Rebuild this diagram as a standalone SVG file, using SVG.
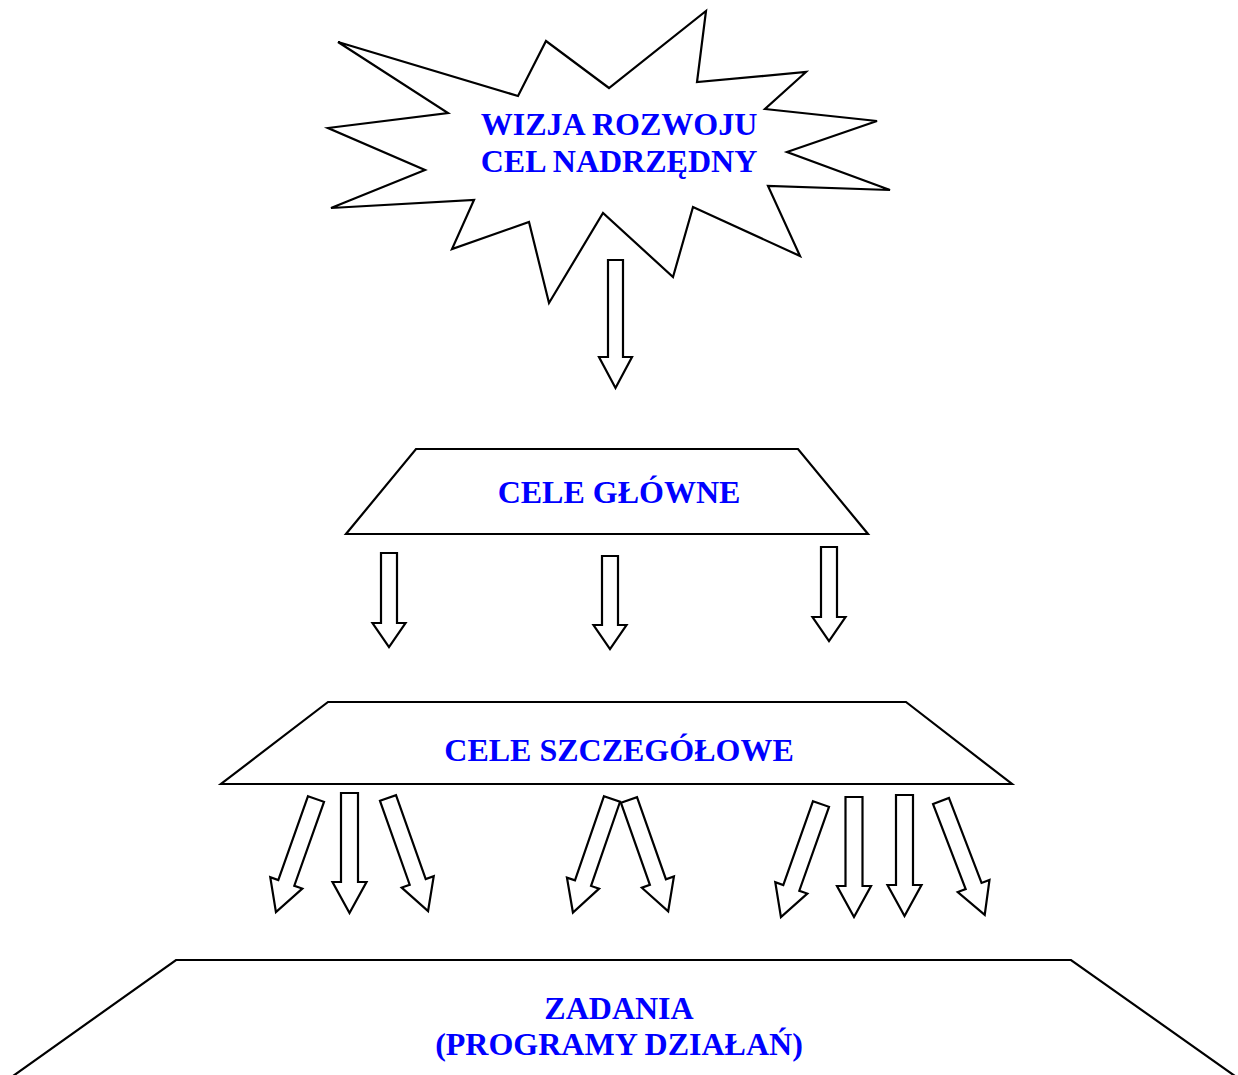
<svg xmlns="http://www.w3.org/2000/svg" width="1238" height="1075" viewBox="0 0 1238 1075">
<style>
.shape{fill:#fff;stroke:#000;stroke-width:2.2;stroke-linejoin:miter}
.arrow{fill:#fff;stroke:#000;stroke-width:2.2}
.lbl{font-family:"Liberation Serif","Times New Roman",serif;font-weight:bold;font-size:32px;fill:#0000FF;text-anchor:middle}
</style>
<rect width="1238" height="1075" fill="#fff"/>
<g id="wizja">
<polygon class="shape" points="338,42 448,113 328,128 425,170 331,208 474,200 452,249 529,222 549,303 603,213 673,277 693,207 800,256 768,186 890,190 787,152 877,121 765,109 806,72 697,82 706,11 609,88 546,41 518,96"/>
<text class="lbl" x="619" y="135">WIZJA ROZWOJU</text>
<text class="lbl" x="619" y="172">CEL NADRZĘDNY</text>
</g>
<g id="cele-glowne">
<polygon class="shape" points="416,449 798,449 868,534 346,534"/>
<text class="lbl" x="619" y="503">CELE GŁÓWNE</text>
</g>
<g id="cele-szczegolowe">
<polygon class="shape" points="328,702 906,702 1012,784 221,784"/>
<text class="lbl" x="619" y="761">CELE SZCZEGÓŁOWE</text>
</g>
<g id="zadania">
<polygon class="shape" points="176,960 1071,960 1242,1081 6,1081"/>
<text class="lbl" x="619" y="1019">ZADANIA</text>
<text class="lbl" x="619" y="1055">(PROGRAMY DZIAŁAŃ)</text>
</g>
<g id="connectors">
<polygon class="arrow" transform="translate(615.5,260)" points="-7.5,0 7.5,0 7.5,97 16.5,97 0,128 -16.5,97 -7.5,97"/>
<polygon class="arrow" transform="translate(389,553)" points="-8,0 8,0 8,70 16.5,70 0,94 -16.5,70 -8,70"/>
<polygon class="arrow" transform="translate(610,556)" points="-8,0 8,0 8,69 16.5,69 0,93 -16.5,69 -8,69"/>
<polygon class="arrow" transform="translate(829,547)" points="-8,0 8,0 8,70 16.5,70 0,94 -16.5,70 -8,70"/>
<polygon class="arrow" transform="translate(316,799) rotate(19.5)" points="-8.5,0 8.5,0 8.5,89 17,89 0,120 -17,89 -8.5,89"/>
<polygon class="arrow" transform="translate(349.5,793)" points="-8.5,0 8.5,0 8.5,89 17,89 0,120 -17,89 -8.5,89"/>
<polygon class="arrow" transform="translate(388,798) rotate(-19.5)" points="-8.5,0 8.5,0 8.5,89 17,89 0,120 -17,89 -8.5,89"/>
<polygon class="arrow" transform="translate(612,799) rotate(19)" points="-8.5,0 8.5,0 8.5,89 17,89 0,120 -17,89 -8.5,89"/>
<polygon class="arrow" transform="translate(629,800) rotate(-19.4)" points="-8.5,0 8.5,0 8.5,87 17,87 0,118 -17,87 -8.5,87"/>
<polygon class="arrow" transform="translate(821,804) rotate(19.5)" points="-8.5,0 8.5,0 8.5,89 17,89 0,120 -17,89 -8.5,89"/>
<polygon class="arrow" transform="translate(854,797)" points="-8.5,0 8.5,0 8.5,89 17,89 0,120 -17,89 -8.5,89"/>
<polygon class="arrow" transform="translate(904.5,795)" points="-8.5,0 8.5,0 8.5,90 17,90 0,121 -17,90 -8.5,90"/>
<polygon class="arrow" transform="translate(941,801) rotate(-21)" points="-8.5,0 8.5,0 8.5,91 17,91 0,122 -17,91 -8.5,91"/>
</g>
</svg>
